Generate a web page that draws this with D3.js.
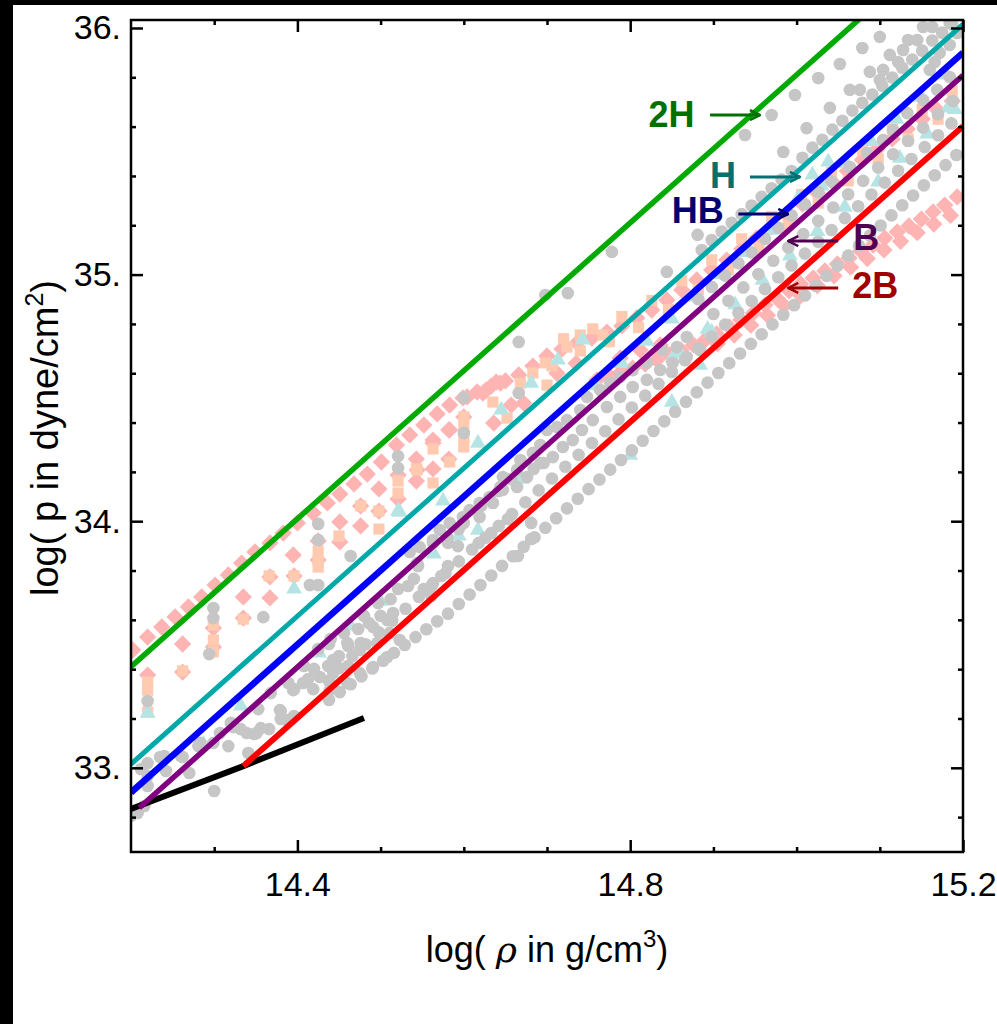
<!DOCTYPE html>
<html>
<head>
<meta charset="utf-8">
<script src="https://cdn.jsdelivr.net/npm/d3@7"></script>
<style>
  body { margin: 0; background: #fff; }
  svg { display: block; font-family: "Liberation Sans", Arial, Helvetica, sans-serif; }
</style>
</head>
<body>
<div id="vis"></div>
<script>
const width = 997;
const height = 1024;

// axis ticks
const xMajor = [14.4, 14.8, 15.2];
const xTickLabels = ["14.4", "14.8", "15.2"];
const xMinor = [14.3, 14.5, 14.6, 14.7, 14.9, 15.0, 15.1];
const yMajor = [33, 34, 35, 36];
const yTickLabels = ["33.", "34.", "35.", "36."];
const yMinor = [32.8, 33.2, 33.4, 33.6, 33.8, 34.2, 34.4, 34.6, 34.8, 35.2, 35.4, 35.6, 35.8];

// model lines [log rho, log p]
const line2H = [[14.2, 33.41], [15.08, 36.05]];
const lineH = [[14.2, 33.015], [15.2, 36.015]];
const lineHB = [[14.2, 32.9], [15.2, 35.9]];
const lineB = [[14.21, 32.838], [15.2, 35.808]];
const line2B = [[14.335, 33.007], [15.2, 35.602]];
const lineCrust = [[14.2, 32.833], [14.335, 33.007], [14.48, 33.202]];

// gray circles (other EOS)
const grayA = [[14.438,33.275],[14.451,33.307],[14.464,33.339],[14.477,33.371],[14.490,33.403],[14.503,33.434],[14.516,33.466],[14.529,33.498],[14.542,33.530],[14.555,33.562],[14.568,33.594],[14.581,33.625],[14.594,33.664],[14.607,33.703],[14.620,33.741],[14.633,33.780],[14.646,33.819],[14.659,33.858],[14.672,33.896],[14.685,33.935],[14.698,33.973],[14.711,34.012],[14.724,34.052],[14.737,34.091],[14.750,34.130],[14.763,34.169],[14.776,34.209],[14.789,34.248],[14.802,34.287],[14.815,34.326],[14.828,34.366],[14.841,34.405],[14.854,34.444],[14.867,34.484],[14.880,34.523],[14.893,34.562],[14.906,34.601],[14.919,34.641],[14.932,34.680],[14.945,34.719],[14.958,34.758],[14.971,34.798],[14.984,34.837],[14.997,34.876],[15.010,34.915],[15.023,34.955],[15.036,34.995],[15.049,35.036],[15.062,35.077],[15.075,35.117],[15.088,35.158],[15.101,35.199],[15.114,35.240],[15.127,35.281],[15.140,35.321],[15.153,35.362],[15.166,35.403],[15.179,35.444],[15.192,35.485]];
const grayR = [[14.450,33.405],[14.466,33.453],[14.482,33.501],[14.498,33.549],[14.514,33.597],[14.530,33.645],[14.546,33.693],[14.562,33.741],[14.578,33.789],[14.594,33.837],[14.610,33.885],[14.626,33.933],[14.642,33.981],[14.658,34.029],[14.674,34.077],[14.690,34.125],[14.706,34.173],[14.722,34.221],[14.738,34.269],[14.754,34.317],[14.770,34.365],[14.786,34.413],[14.802,34.461],[14.818,34.509],[14.834,34.557],[14.850,34.605],[14.866,34.653],[14.882,34.701],[14.898,34.749],[14.914,34.797],[14.930,34.845],[14.946,34.893],[14.962,34.941],[14.978,34.989],[14.994,35.037],[15.010,35.085],[15.026,35.133],[15.042,35.181],[15.058,35.229],[15.074,35.277],[15.090,35.325],[15.106,35.373],[15.122,35.421],[15.138,35.469],[15.154,35.517],[15.170,35.565],[15.186,35.613]];
const grayMid = [[14.535,33.875],[14.547,33.895],[14.563,33.924],[14.571,33.964],[14.583,33.993],[14.599,34.017],[14.607,34.045],[14.619,34.074],[14.631,34.098],[14.644,34.139],[14.647,34.179],[14.664,34.208],[14.668,34.248],[14.683,34.277],[14.692,34.309],[14.700,34.370],[14.712,34.382],[14.724,34.410],[14.740,34.451],[14.748,34.504],[14.764,34.532],[14.776,34.560],[14.788,34.585],[14.803,34.613],[14.820,34.642],[14.839,34.694],[14.856,34.706],[14.868,34.747],[14.882,34.900],[14.898,34.950],[14.914,34.996],[14.930,35.046],[14.946,35.090],[14.962,35.145],[14.978,35.190],[14.994,35.240],[15.010,35.285],[15.026,35.335],[15.042,35.378],[15.064,35.436],[15.085,35.493],[15.104,35.546],[15.116,35.586],[15.133,35.655],[15.152,35.708],[15.169,35.749],[15.184,35.801]];
const grayM2 = [[14.544,33.830],[14.563,33.912],[14.580,33.936],[14.599,33.993],[14.619,34.017],[14.635,34.074],[14.647,34.127],[14.664,34.139],[14.676,34.179],[14.692,34.236],[14.707,34.260],[14.719,34.301],[14.731,34.329],[14.742,34.370],[14.755,34.410],[14.772,34.463],[14.788,34.504],[14.803,34.544],[14.820,34.573],[14.836,34.613],[14.851,34.642],[14.868,34.666],[14.884,34.694],[14.900,34.840],[14.918,34.894],[14.936,34.948],[14.954,35.002],[14.972,35.056],[14.990,35.110],[15.008,35.164],[15.026,35.218],[15.044,35.272],[15.062,35.326],[15.080,35.380],[15.098,35.434],[15.116,35.488],[15.134,35.542],[15.152,35.596],[15.170,35.650],[15.188,35.704]];
const grayC = [[14.886,35.100],[14.898,35.140],[14.910,35.175],[14.922,35.210],[14.934,35.245],[14.946,35.280],[14.958,35.315],[14.970,35.350],[14.982,35.385],[14.994,35.420],[15.007,35.474],[15.019,35.515],[15.031,35.547],[15.043,35.588],[15.055,35.624],[15.067,35.665],[15.079,35.697],[15.091,35.730],[15.103,35.766],[15.115,35.799],[15.127,35.839],[15.139,35.872],[15.151,35.908],[15.163,35.949],[15.175,35.981],[15.187,36.014]];
const grayU = [[14.698,34.917],[14.725,34.925],[14.778,35.092],[14.844,35.011],[14.881,35.161],[14.938,35.566],[14.970,35.647],[14.998,35.728],[15.026,35.797],[15.052,35.854],[15.079,35.919],[15.100,35.964],[14.984,35.497],[15.012,35.594],[15.040,35.676],[15.064,35.749],[15.088,35.822],[15.104,35.830],[15.112,35.891],[15.122,35.862],[15.128,35.911],[15.134,35.951],[15.145,35.951],[15.152,36.004],[15.163,36.004],[15.166,35.862],[15.172,35.899],[15.184,35.931],[15.184,36.020],[15.193,35.980],[15.160,35.830],[15.076,35.749],[15.100,35.789]];
const grayLow = [[14.212,32.995],[14.220,33.019],[14.240,33.048],[14.242,32.987],[14.260,33.048],[14.270,32.979],[14.281,33.088],[14.299,33.101],[14.317,33.088],[14.332,33.157],[14.348,33.137],[14.341,33.060],[14.356,33.161],[14.366,33.157],[14.380,33.230],[14.380,33.198],[14.396,33.210],[14.396,33.319],[14.413,33.360],[14.419,33.319],[14.420,33.401],[14.437,33.413],[14.438,33.352],[14.450,33.453],[14.461,33.413],[14.461,33.494],[14.476,33.506],[14.480,33.616],[14.486,33.587],[14.497,33.668],[14.500,33.616],[14.512,33.684],[14.521,33.725],[14.533,33.737],[14.540,33.766],[14.545,33.818],[14.552,33.725],[14.561,33.697],[14.563,33.749],[14.573,33.778],[14.581,33.818],[14.581,33.912],[14.593,33.899],[14.594,33.968],[14.600,33.993],[14.618,33.912],[14.621,34.062],[14.633,33.952],[14.642,34.122],[14.653,34.009],[14.657,34.171],[14.665,33.859],[14.684,34.212],[14.681,33.928],[14.681,33.993],[14.696,34.236],[14.320,33.182],[14.353,33.238],[14.368,33.303],[14.389,33.344],[14.408,33.413],[14.425,33.482],[14.438,33.502],[14.456,33.547],[14.473,33.563],[14.440,33.522],[14.200,32.805],[14.208,32.817],[14.216,32.845],[14.220,32.926],[14.220,32.967],[14.300,32.906],[14.299,33.648],[14.299,33.607],[14.294,33.461],[14.359,33.611],[14.415,33.741],[14.425,33.741],[14.425,33.989],[14.425,33.924],[14.464,33.859],[14.521,34.264],[14.521,34.216],[14.600,34.500],[14.600,34.358],[14.666,34.727],[14.666,34.520],[14.220,33.271],[14.235,33.044],[14.262,33.044],[14.283,33.101],[14.307,33.141],[14.323,33.165],[14.339,33.141],[14.351,33.141],[14.379,33.234],[14.387,33.194],[14.395,33.315],[14.407,33.344],[14.427,33.368],[14.443,33.384],[14.443,33.437],[14.460,33.506],[14.475,33.478],[14.491,33.571],[14.496,33.506],[14.508,33.599],[14.511,33.547],[14.515,33.628],[14.439,33.315],[14.460,33.344],[14.475,33.384],[14.491,33.409],[14.508,33.449],[14.523,33.518]];

// pink diamonds
const pinkP1 = [[14.202,33.478],[14.220,33.530],[14.237,33.571],[14.253,33.612],[14.269,33.652],[14.285,33.693],[14.301,33.741],[14.317,33.782],[14.333,33.830],[14.349,33.875],[14.367,33.912],[14.383,33.952],[14.400,33.993],[14.419,34.033],[14.436,34.074],[14.451,34.110],[14.468,34.151],[14.484,34.191],[14.501,34.240],[14.519,34.309],[14.535,34.350],[14.552,34.390],[14.568,34.435],[14.583,34.471],[14.599,34.500],[14.616,34.524],[14.633,34.548],[14.650,34.569],[14.666,34.593],[14.683,34.629],[14.700,34.670],[14.718,34.698],[14.736,34.723],[14.754,34.743],[14.772,34.767],[14.790,34.792],[14.808,34.824],[14.826,34.856],[14.844,34.897],[14.862,34.938],[14.880,34.978],[14.898,35.019],[14.916,35.059],[14.934,35.104],[14.952,35.148],[14.970,35.193],[14.989,35.242],[15.007,35.286],[15.025,35.331],[15.043,35.376],[15.061,35.420],[15.079,35.465],[15.097,35.509],[15.115,35.550],[15.133,35.590],[15.151,35.631],[15.169,35.668],[15.187,35.704]];
const pinkP2 = [[14.760,34.573],[14.775,34.589],[14.789,34.605],[14.803,34.621],[14.818,34.637],[14.832,34.654],[14.847,34.674],[14.861,34.694],[14.876,34.715],[14.890,34.735],[14.904,34.759],[14.919,34.788],[14.933,34.816],[14.948,34.844],[14.962,34.877],[14.976,34.905],[14.991,34.934],[15.005,34.962],[15.020,34.986],[15.034,35.015],[15.049,35.043],[15.063,35.067],[15.077,35.096],[15.092,35.120],[15.106,35.148],[15.121,35.173],[15.135,35.197],[15.150,35.225],[15.164,35.254],[15.178,35.282],[15.193,35.315]];
const pinkP2b = [[14.905,34.720],[14.925,34.755],[14.945,34.795],[14.965,34.835],[14.985,34.875],[15.005,34.915],[15.025,34.955],[15.045,34.995],[15.065,35.030],[15.085,35.065],[15.105,35.100],[15.125,35.135],[15.145,35.170],[15.165,35.205],[15.185,35.240]];
const pinkP3 = [[14.220,33.376],[14.262,33.502],[14.299,33.567],[14.335,33.693],[14.367,33.774],[14.395,33.863],[14.425,33.920],[14.451,33.997],[14.476,34.062],[14.498,34.131],[14.521,34.187],[14.543,34.252],[14.563,34.317],[14.582,34.370],[14.600,34.423],[14.627,34.532],[14.639,34.564]];
const pinkP4 = [[14.262,33.388],[14.299,33.490],[14.335,33.607],[14.367,33.689],[14.396,33.778],[14.425,33.843],[14.451,33.916],[14.476,33.981],[14.498,34.041],[14.521,34.090],[14.543,34.163],[14.563,34.212],[14.582,34.252],[14.636,34.398],[14.657,34.471],[14.672,34.479]];
const pinkMid = [[14.644,34.560],[14.623,34.520],[14.604,34.504],[14.583,34.370],[14.563,34.329],[14.544,34.208],[14.788,34.662],[14.812,34.694],[14.836,34.715],[14.712,34.600],[14.735,34.640]];

// peach squares
const peachLow = [[14.220,33.348],[14.220,33.315],[14.220,33.226],[14.262,33.393],[14.299,33.579],[14.299,33.518],[14.299,33.470],[14.335,33.603],[14.366,33.778],[14.396,33.778],[14.425,33.879],[14.425,33.839],[14.425,33.814],[14.450,33.940],[14.476,34.062],[14.498,34.041],[14.498,33.968],[14.521,34.163],[14.521,34.114],[14.543,34.212],[14.544,34.208],[14.563,34.293],[14.563,34.155],[14.583,34.240],[14.600,34.423],[14.600,34.382],[14.600,34.341],[14.600,34.301],[14.635,34.483],[14.652,34.418],[14.668,34.560],[14.683,34.601],[14.698,34.642],[14.700,34.552],[14.724,34.706],[14.740,34.755],[14.767,34.755]];
const peachHigh = [[14.706,34.630],[14.740,34.690],[14.775,34.728],[14.810,34.785],[14.846,34.858],[14.882,34.940],[14.918,35.020],[14.955,35.110],[14.990,35.200],[15.026,35.290],[15.062,35.380],[15.098,35.470],[15.134,35.550],[15.170,35.630],[14.720,34.740],[14.755,34.780],[14.790,34.830],[14.826,34.895],[14.862,34.975],[14.898,35.060],[14.934,35.145],[14.970,35.235],[15.006,35.325],[15.042,35.415],[15.079,35.505],[15.115,35.590],[15.151,35.670],[15.187,35.745]];

// light cyan triangles
const cyanLow = [[14.220,33.222],[14.287,33.096],[14.332,33.251],[14.396,33.725],[14.426,33.466],[14.464,33.575],[14.500,33.676],[14.521,34.041],[14.564,33.867],[14.575,34.082],[14.594,33.940],[14.617,34.317],[14.617,33.964],[14.645,34.451],[14.669,34.171],[14.681,34.560],[14.713,34.654],[14.743,34.735],[14.800,34.268],[14.850,34.483],[14.851,34.662],[14.884,34.633],[14.898,34.767],[14.523,34.037]];
const cyanHigh = [[15.002,35.311],[15.019,35.404],[15.038,35.457],[15.182,35.676],[15.098,35.376],[14.760,34.550],[14.790,34.640],[14.820,34.730],[14.850,34.820],[14.880,34.910],[14.910,35.000],[14.940,35.090],[14.970,35.180],[15.030,35.360],[15.060,35.450],[15.090,35.540],[15.120,35.630],[15.150,35.720],[15.180,35.810],[14.860,34.680],[14.893,34.779],[14.926,34.878],[14.959,34.977],[14.992,35.076],[15.025,35.175],[15.058,35.274],[15.124,35.472],[15.157,35.571],[15.190,35.670]];

// labels with arrows: text anchor point and arrow from -> to
const labelNames = ["2H", "H", "HB", "B", "2B"];
const labelColors = ["#007000", "#007070", "#000070", "#500050", "#a00000"];
const labelPos = [[14.822, 35.599], [14.896, 35.351], [14.850, 35.209], [15.068, 35.100], [15.067, 34.905]];
const arrowFrom = [[14.896, 35.647], [14.944, 35.396], [14.930, 35.246], [15.050, 35.136], [15.050, 34.946]];
const arrowTo = [[14.956, 35.647], [15.004, 35.396], [14.990, 35.246], [14.990, 35.136], [14.990, 34.946]];

const svg = d3.select("#vis").append("svg")
    .attr("width", width)
    .attr("height", height);

svg.append("rect").attr("width", width).attr("height", height).attr("fill", "#fff");
// dark strips at the picture edges
svg.append("rect").attr("x", 0).attr("y", 0).attr("width", width).attr("height", 5).attr("fill", "#000");
svg.append("rect").attr("x", 0).attr("y", 0).attr("width", 13).attr("height", height).attr("fill", "#000");

const x = d3.scaleLinear().domain([14.2, 15.2]).range([131, 963]);
const y = d3.scaleLinear().domain([32.6586, 36.0324]).range([852, 20]);

svg.append("clipPath").attr("id", "plotclip")
  .append("rect")
    .attr("x", x(14.2)).attr("y", y(36.0324))
    .attr("width", x(15.2) - x(14.2)).attr("height", y(32.6586) - y(36.0324));

const plot = svg.append("g").attr("clip-path", "url(#plotclip)");

function drawSymbols(data, type, size, color, rotate) {
    const sym = d3.symbol().type(type).size(size);
    plot.append("g")
        .selectAll("path")
        .data(data)
        .enter().append("path")
        .attr("d", sym)
        .attr("transform", d => `translate(${x(d[0])},${y(d[1])}) rotate(${rotate})`)
        .attr("fill", color);
}

const pinkColor = "#ffb4b4";
const peachColor = "#ffcab0";
const cyanColor = "#b6e4e4";
const grayColor = "#c6c6c6";

[pinkP1, pinkP2, pinkP2b, pinkP3, pinkP4, pinkMid].forEach(s => drawSymbols(s, d3.symbolSquare, 150, pinkColor, 45));
[peachLow, peachHigh].forEach(s => drawSymbols(s, d3.symbolSquare, 125, peachColor, 0));
[cyanLow, cyanHigh].forEach(s => drawSymbols(s, d3.symbolTriangle, 110, cyanColor, 0));
[grayA, grayR, grayMid, grayM2, grayC, grayU, grayLow].forEach(s => drawSymbols(s, d3.symbolCircle, 125, grayColor, 0));

// model lines
const lineGen = d3.line().x(d => x(d[0])).y(d => y(d[1]));
const models = [
    { data: lineCrust, color: "#000000", w: 6 },
    { data: line2H, color: "#00aa00", w: 5.5 },
    { data: lineH, color: "#00a8a8", w: 5 },
    { data: lineHB, color: "#0000ff", w: 6.5 },
    { data: lineB, color: "#800080", w: 5.5 },
    { data: line2B, color: "#ff0000", w: 6 }
];
plot.append("g")
    .selectAll("path")
    .data(models)
    .enter().append("path")
    .attr("d", d => lineGen(d.data))
    .attr("fill", "none")
    .attr("stroke", d => d.color)
    .attr("stroke-width", d => d.w);

// frame
svg.append("rect")
    .attr("x", x(14.2)).attr("y", y(36.0324))
    .attr("width", x(15.2) - x(14.2)).attr("height", y(32.6586) - y(36.0324))
    .attr("fill", "none").attr("stroke", "#000").attr("stroke-width", 2.5);

function styleAxis(g) {
    g.select(".domain").remove();
    g.selectAll(".tick line").attr("stroke", "#000").attr("stroke-width", 2.5);
    g.selectAll(".tick text").attr("fill", "#000").style("font-size", "34px")
        .style("font-family", '"Liberation Sans", Arial, sans-serif');
}

const axes = svg.append("g");
axes.append("g").attr("transform", `translate(0,${y(32.6586)})`)
    .call(d3.axisBottom(x).tickValues(xMajor).tickSize(-12).tickPadding(20).tickFormat((d, i) => xTickLabels[i]))
    .call(styleAxis);
axes.append("g").attr("transform", `translate(0,${y(32.6586)})`)
    .call(d3.axisBottom(x).tickValues(xMinor).tickSize(-5).tickFormat(""))
    .call(styleAxis);
axes.append("g").attr("transform", `translate(0,${y(36.0324)})`)
    .call(d3.axisTop(x).tickValues(xMajor).tickSize(-12).tickFormat(""))
    .call(styleAxis);
axes.append("g").attr("transform", `translate(0,${y(36.0324)})`)
    .call(d3.axisTop(x).tickValues(xMinor).tickSize(-5).tickFormat(""))
    .call(styleAxis);
axes.append("g").attr("transform", `translate(${x(14.2)},0)`)
    .call(d3.axisLeft(y).tickValues(yMajor).tickSize(-12).tickPadding(10).tickFormat((d, i) => yTickLabels[i]))
    .call(styleAxis);
axes.append("g").attr("transform", `translate(${x(14.2)},0)`)
    .call(d3.axisLeft(y).tickValues(yMinor).tickSize(-5).tickFormat(""))
    .call(styleAxis);
axes.append("g").attr("transform", `translate(${x(15.2)},0)`)
    .call(d3.axisRight(y).tickValues(yMajor).tickSize(-12).tickFormat(""))
    .call(styleAxis);
axes.append("g").attr("transform", `translate(${x(15.2)},0)`)
    .call(d3.axisRight(y).tickValues(yMinor).tickSize(-5).tickFormat(""))
    .call(styleAxis);

// axis titles
const xTitle = svg.append("text")
    .attr("x", 547).attr("y", 962)
    .attr("text-anchor", "middle")
    .style("font-size", "36px")
    .attr("fill", "#000");
xTitle.append("tspan").text("log( ");
xTitle.append("tspan").style("font-family", "'DejaVu Serif', serif").style("font-style", "italic").text("ρ");
xTitle.append("tspan").text(" in g/cm");
xTitle.append("tspan").attr("dy", -15).style("font-size", "24px").text("3");
xTitle.append("tspan").attr("dy", 15).text(")");

const yTitle = svg.append("text")
    .attr("transform", "translate(58,438) rotate(-90)")
    .attr("text-anchor", "middle")
    .style("font-size", "38px")
    .attr("fill", "#000");
yTitle.append("tspan").text("log( p in dyne/cm");
yTitle.append("tspan").attr("dy", -15).style("font-size", "25px").text("2");
yTitle.append("tspan").attr("dy", 15).text(")");

// labelled arrows
const defs = svg.append("defs");
labelColors.forEach((c, i) => {
    defs.append("marker")
        .attr("id", "arr" + i)
        .attr("viewBox", "0 0 12 12")
        .attr("refX", 11).attr("refY", 6)
        .attr("markerWidth", 12).attr("markerHeight", 12)
        .attr("markerUnits", "userSpaceOnUse")
        .attr("orient", "auto")
      .append("path")
        .attr("d", "M1,1 L11,6 L1,11")
        .attr("fill", "none")
        .attr("stroke", c)
        .attr("stroke-width", 2.5);
});

const ann = svg.append("g");
labelNames.forEach((name, i) => {
    ann.append("line")
        .attr("x1", x(arrowFrom[i][0])).attr("y1", y(arrowFrom[i][1]))
        .attr("x2", x(arrowTo[i][0])).attr("y2", y(arrowTo[i][1]))
        .attr("stroke", labelColors[i])
        .attr("stroke-width", 3)
        .attr("marker-end", `url(#arr${i})`);
    ann.append("text")
        .attr("x", x(labelPos[i][0])).attr("y", y(labelPos[i][1]))
        .attr("fill", labelColors[i])
        .style("font-size", "36px")
        .style("font-weight", "bold")
        .text(name);
});
</script>
</body>
</html>
